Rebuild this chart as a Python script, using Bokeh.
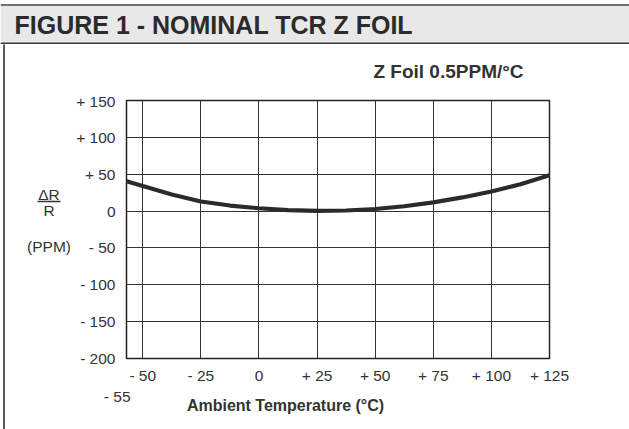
from bokeh.plotting import figure
from bokeh.layouts import column, row
from bokeh.models import Range1d, FixedTicker
from bokeh.core.properties import value
from bokeh.embed import file_html
from bokeh.resources import INLINE

# ---- data ----
temps = [-57, -50, -37.5, -25, -12.5, 0, 12.5, 25, 37.5, 50, 62.5, 75, 87.5, 100, 112.5, 125]
ppm = [40.5, 34, 22.5, 13, 7.5, 3.8, 1.3, 0.2, 0.8, 2.8, 6.5, 11.8, 18.5, 26.5, 36.5, 48.5]

x_ticks = [-50, -25, 0, 25, 50, 75, 100, 125]
x_tick_labels = ["- 50", "- 25", "0", "+ 25", "+ 50", "+ 75", "+ 100", "+ 125"]
y_ticks = [-200, -150, -100, -50, 0, 50, 100, 150]
y_tick_labels = ["- 200", "- 150", "- 100", "- 50", "0", "+ 50", "+ 100", "+ 150"]
extra_x_label = "- 55"

title_text = "FIGURE 1 -  NOMINAL TCR Z FOIL"
subtitle_text = "Z Foil 0.5PPM/°C"
x_title = "Ambient Temperature (°C)"
y_title_num = "ΔR"
y_title_den = "R"
y_unit = "(PPM)"

X0, X1 = -57, 125
Y0, Y1 = -200, 150

FONT = "Liberation Sans"
TXT = "#333333"
W, H = 629, 429
BAR_B = 44      # bottom of title bar
TOP_B = 92      # bottom of subtitle strip
MID_B = 386     # bottom of chart row
STRIP_W = 8
LEFT_R = 70


def no_align(f):
    if "frame_align" in f.properties():
        f.frame_align = False
    return f


def deco_fig(x_l, x_r, y_t, y_b):
    """Figure whose data coordinates equal page pixels."""
    f = figure(width=x_r - x_l, height=y_b - y_t, output_backend="svg", toolbar_location=None,
               x_range=Range1d(x_l, x_r), y_range=Range1d(y_b, y_t),
               x_axis_location=None, y_axis_location=None,
               min_border=0, min_border_left=0, min_border_right=0,
               min_border_top=0, min_border_bottom=0)
    f.outline_line_color = None
    f.grid.visible = False
    f.background_fill_color = "white"
    f.border_fill_color = "white"
    return no_align(f)


# ---- title bar ----
bar = deco_fig(0, W, 0, BAR_B)
bar.quad(left=[0], right=[W], top=[4], bottom=[BAR_B], fill_color="#e8e8e8", line_color=None)
bar.segment(x0=[0], y0=[4.5], x1=[W], y1=[4.5], line_color="#4a4a4a", line_width=1.3)
bar.segment(x0=[0], y0=[43], x1=[W], y1=[43], line_color="#3a3a3a", line_width=2)
bar.text(x=[14], y=[24], text=[title_text], text_font=value(FONT), text_font_style="bold",
         text_font_size=value("25px"), text_color="#2b2b2b",
         text_baseline="middle", text_align="left")

# ---- left rule (one continuous strip) ----
strip = deco_fig(0, STRIP_W, BAR_B, H)
strip.segment(x0=[3.5], y0=[BAR_B - 5], x1=[3.5], y1=[H + 5], line_color="#333333", line_width=1.6)

# ---- subtitle ----
sub = deco_fig(STRIP_W, W, BAR_B, TOP_B)
sub.text(x=[448], y=[71], text=[subtitle_text], text_font=value(FONT), text_font_style="bold",
         text_font_size=value("19px"), text_color=TXT,
         text_baseline="middle", text_align="center")

# ---- left: ΔR / R (PPM) ----
left = deco_fig(STRIP_W, LEFT_R, TOP_B, MID_B)
left.text(x=[48.5, 48.5, 48.5], y=[194, 210, 246], text=[y_title_num, y_title_den, y_unit],
          text_font=value(FONT), text_font_size=value("15.5px"), text_color=TXT,
          text_baseline="middle", text_align="center")
left.segment(x0=[37], y0=[201], x1=[60], y1=[201], line_color=TXT, line_width=1.3)

# ---- chart ----
FL, FR, FT, FB = 126, 549, 100, 359   # frame in page pixels
CW = W - LEFT_R
CH = MID_B - TOP_B
p = figure(width=CW, height=CH, output_backend="svg", toolbar_location=None,
           x_range=Range1d(X0, X1), y_range=Range1d(Y0, Y1),
           min_border_left=FL - LEFT_R, min_border_right=CW - (FR - LEFT_R),
           min_border_top=FT - TOP_B, min_border_bottom=CH - (FB - TOP_B))
no_align(p)
p.background_fill_color = "white"
p.border_fill_color = "white"
p.outline_line_color = "#222222"
p.outline_line_width = 1.5

for ax, ticks, labels in ((p.xaxis, x_ticks, x_tick_labels), (p.yaxis, y_ticks, y_tick_labels)):
    ax.ticker = FixedTicker(ticks=ticks)
    ax.major_label_overrides = {t: l for t, l in zip(ticks, labels)}
    ax.axis_line_color = None
    ax.major_tick_line_color = None
    ax.minor_tick_line_color = None
    ax.major_tick_out = 0
    ax.major_tick_in = 0
    ax.major_label_text_font = FONT
    ax.major_label_text_font_size = "15.5px"
    ax.major_label_text_color = TXT
p.yaxis.major_label_standoff = 11
p.xaxis.major_label_standoff = 8

p.xgrid.ticker = FixedTicker(ticks=x_ticks)
p.ygrid.ticker = FixedTicker(ticks=y_ticks)
for g in (p.xgrid, p.ygrid):
    g.grid_line_color = "#333333"
    g.grid_line_width = 1
    g.grid_line_alpha = 1

p.line(temps, ppm, line_color="#2b2b2b", line_width=4.2, line_cap="round")

# ---- bottom: -55 and x title ----
bottom = deco_fig(STRIP_W, W, MID_B, H)
bottom.text(x=[130], y=[395.5], text=[extra_x_label], text_font=value(FONT),
            text_font_size=value("15.5px"), text_color=TXT,
            text_baseline="middle", text_align="right")
bottom.text(x=[285], y=[405], text=[x_title], text_font=value(FONT), text_font_style="bold",
            text_font_size=value("16px"), text_color=TXT,
            text_baseline="middle", text_align="center")

layout = column(bar, row(strip, column(sub, row(left, p), bottom)))
open("out.html", "w").write(file_html(layout, INLINE))
